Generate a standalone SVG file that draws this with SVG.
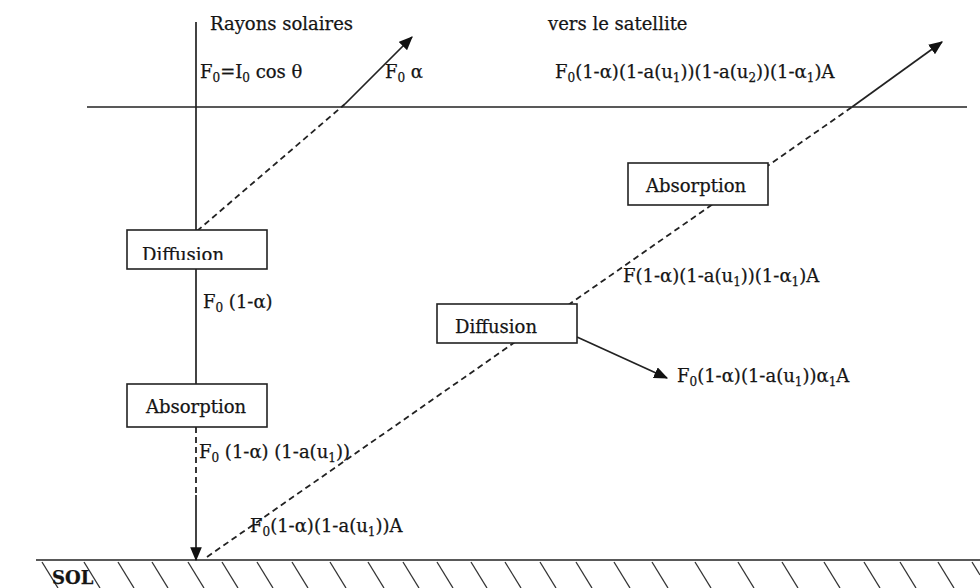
<svg xmlns="http://www.w3.org/2000/svg" width="980" height="588" viewBox="0 0 980 588">
<style>
  text { font-family: "DejaVu Serif", "Liberation Serif", serif; font-size: 18px; fill: #151515; stroke: #151515; stroke-width: 0.25; }
  .sub { font-size: 12px; }
  .box { fill: #ffffff; stroke: #222; stroke-width: 1.6; }
  .ln { stroke: #222; stroke-width: 1.7; fill: none; }
  .dash { stroke: #222; stroke-width: 1.8; fill: none; stroke-dasharray: 6 4; }
  .hatch { stroke: #333; stroke-width: 1.3; }
</style>
<defs>
  <marker id="arr" viewBox="0 0 12 10" refX="11" refY="5" markerWidth="14" markerHeight="12" markerUnits="userSpaceOnUse" orient="auto">
    <path d="M0,0 L12,5 L0,10 Z" fill="#111"/>
  </marker>
  <clipPath id="clipDiff"><rect x="127" y="230" width="140" height="30"/></clipPath>
</defs>
<rect width="980" height="588" fill="#ffffff"/>

<g id="levels">
  <line class="ln" x1="87" y1="107" x2="967" y2="107"/>
  <line class="ln" x1="36" y1="560" x2="980" y2="560"/>
</g>

<g id="hatching">
  <line class="hatch" x1="42" y1="562" x2="58" y2="588"/>
  <line class="hatch" x1="84" y1="562" x2="100" y2="588"/>
  <line class="hatch" x1="118" y1="562" x2="134" y2="588"/>
  <line class="hatch" x1="152" y1="562" x2="168" y2="588"/>
  <line class="hatch" x1="188" y1="562" x2="204" y2="588"/>
  <line class="hatch" x1="222" y1="562" x2="238" y2="588"/>
  <line class="hatch" x1="257" y1="562" x2="273" y2="588"/>
  <line class="hatch" x1="292" y1="562" x2="308" y2="588"/>
  <line class="hatch" x1="330" y1="562" x2="346" y2="588"/>
  <line class="hatch" x1="368" y1="562" x2="384" y2="588"/>
  <line class="hatch" x1="403" y1="562" x2="419" y2="588"/>
  <line class="hatch" x1="437" y1="562" x2="453" y2="588"/>
  <line class="hatch" x1="471" y1="562" x2="487" y2="588"/>
  <line class="hatch" x1="505" y1="562" x2="521" y2="588"/>
  <line class="hatch" x1="540" y1="562" x2="556" y2="588"/>
  <line class="hatch" x1="576" y1="562" x2="592" y2="588"/>
  <line class="hatch" x1="614" y1="562" x2="630" y2="588"/>
  <line class="hatch" x1="652" y1="562" x2="668" y2="588"/>
  <line class="hatch" x1="695" y1="562" x2="711" y2="588"/>
  <line class="hatch" x1="738" y1="562" x2="754" y2="588"/>
  <line class="hatch" x1="782" y1="562" x2="798" y2="588"/>
  <line class="hatch" x1="824" y1="562" x2="840" y2="588"/>
  <line class="hatch" x1="864" y1="562" x2="880" y2="588"/>
  <line class="hatch" x1="900" y1="562" x2="916" y2="588"/>
  <line class="hatch" x1="938" y1="562" x2="954" y2="588"/>
  <line class="hatch" x1="972" y1="562" x2="980" y2="575"/>
</g>

<g id="connectors">
  <line class="ln" x1="196" y1="22" x2="196" y2="230"/>
  <line class="ln" x1="196" y1="269" x2="196" y2="384"/>
  <line class="dash" x1="196" y1="427" x2="196" y2="495"/>
  <line class="ln" x1="196" y1="495" x2="196" y2="560" marker-end="url(#arr)"/>
  <line class="dash" x1="197" y1="231" x2="345" y2="104"/>
  <line class="ln" x1="345" y1="104" x2="412" y2="37" marker-end="url(#arr)"/>
  <line class="dash" x1="207" y1="557" x2="852" y2="107"/>
  <line class="ln" x1="852" y1="107" x2="942" y2="42" marker-end="url(#arr)"/>
  <line class="ln" x1="577" y1="337" x2="667" y2="378" marker-end="url(#arr)"/>
</g>

<g id="node-diffusion-1">
  <rect class="box" x="127" y="230" width="140" height="39"/>
  <text x="142" y="261" clip-path="url(#clipDiff)">Diffusion</text>
</g>
<g id="node-absorption-1">
  <rect class="box" x="127" y="384" width="140" height="43"/>
  <text x="146" y="413">Absorption</text>
</g>
<g id="node-diffusion-2">
  <rect class="box" x="437" y="304" width="140" height="39"/>
  <text x="455" y="333">Diffusion</text>
</g>
<g id="node-absorption-2">
  <rect class="box" x="628" y="163" width="140" height="42"/>
  <text x="646" y="192">Absorption</text>
</g>

<g id="labels">
  <text x="210" y="30">Rayons solaires</text>
  <text x="548" y="30">vers le satellite</text>
  <text x="200" y="78">F<tspan class="sub" dy="4">0</tspan><tspan dy="-4">=I</tspan><tspan class="sub" dy="4">0</tspan><tspan dy="-4"> cos θ</tspan></text>
  <text x="385" y="78">F<tspan class="sub" dy="4">0</tspan><tspan dy="-4"> α</tspan></text>
  <text x="555" y="78">F<tspan class="sub" dy="4">0</tspan><tspan dy="-4">(1-α)(1-a(u</tspan><tspan class="sub" dy="4">1</tspan><tspan dy="-4">))(1-a(u</tspan><tspan class="sub" dy="4">2</tspan><tspan dy="-4">))(1-α</tspan><tspan class="sub" dy="4">1</tspan><tspan dy="-4">)A</tspan></text>
  <text x="623" y="282">F(1-α)(1-a(u<tspan class="sub" dy="4">1</tspan><tspan dy="-4">))(1-α</tspan><tspan class="sub" dy="4">1</tspan><tspan dy="-4">)A</tspan></text>
  <text x="677" y="382">F<tspan class="sub" dy="4">0</tspan><tspan dy="-4">(1-α)(1-a(u</tspan><tspan class="sub" dy="4">1</tspan><tspan dy="-4">))α</tspan><tspan class="sub" dy="4">1</tspan><tspan dy="-4">A</tspan></text>
  <text x="203" y="308">F<tspan class="sub" dy="4">0</tspan><tspan dy="-4"> (1-α)</tspan></text>
  <text x="199" y="458">F<tspan class="sub" dy="4">0</tspan><tspan dy="-4"> (1-α) (1-a(u</tspan><tspan class="sub" dy="4">1</tspan><tspan dy="-4">))</tspan></text>
  <text x="250" y="532">F<tspan class="sub" dy="4">0</tspan><tspan dy="-4">(1-α)(1-a(u</tspan><tspan class="sub" dy="4">1</tspan><tspan dy="-4">))A</tspan></text>
  <text x="52" y="584" font-weight="bold" font-size="16">SOL</text>
</g>
</svg>
